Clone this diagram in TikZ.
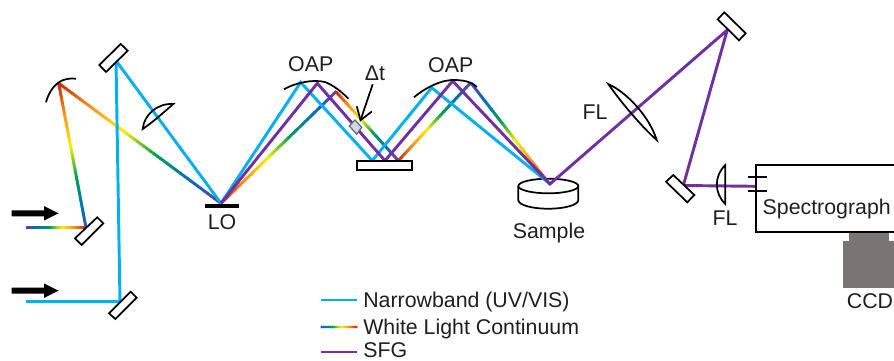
\documentclass[tikz,border=0pt]{standalone}
\usepackage{fontspec}
\setmainfont{Liberation Sans}
\usetikzlibrary{calc,arrows.meta}
\definecolor{nbblue}{HTML}{00B0F0}
\definecolor{sfgpurple}{HTML}{7030A0}
\definecolor{ccdgray}{HTML}{7A7472}
\definecolor{delayfill}{HTML}{C9D8EC}
\definecolor{cz0}{HTML}{6A3CA8}
\definecolor{cz1}{HTML}{0070C0}
\definecolor{cz2}{HTML}{00A050}
\definecolor{cz3}{HTML}{FFEF00}
\definecolor{cz4}{HTML}{F7941D}
\definecolor{cz5}{HTML}{C8280A}
\tikzset{
  mirrorbox/.style={draw=black,line width=1.3pt,fill=white,line join=miter},
  optic/.style={draw=black,line width=1.3pt,fill=white,line join=round},
  curvedmirror/.style={draw=black,line width=1.3pt},
  nbbeam/.style={draw=nbblue,line width=2.2pt,line join=miter},
  sfgbeam/.style={draw=sfgpurple,line width=2.2pt,line join=miter},
  lab/.style={font=\fontsize{16}{18}\selectfont,text=black!88,inner sep=0pt,outer sep=0pt},
  block/.style={fill=black,draw=none}
}
% rainbow segment: from coordinate #1 to coordinate #2, spectrum position #3 to #4
\newcommand{\rbow}[4]{%
  \foreach \ii in {0,...,47}{%
    \pgfmathsetmacro\tta{#3+(#4-#3)*(\ii+0.5)/48}%
    \pgfmathsetmacro\ssa{\tta*5}%
    \pgfmathtruncatemacro\ida{min(floor(\ssa),4)}%
    \pgfmathtruncatemacro\idb{\ida+1}%
    \pgfmathsetmacro\fra{100-(\ssa-\ida)*100}%
    \pgfmathsetmacro\pa{\ii/48}%
    \pgfmathsetmacro\pb{(\ii+1.2)/48}%
    \draw[line width=2.2pt,color=cz\ida!\fra!cz\idb] ($(#1)!\pa!(#2)$) -- ($(#1)!\pb!(#2)$);
  }%
}
\begin{document}
\begin{tikzpicture}[x=0.75pt,y=-0.75pt]
\useasboundingbox (0,0) rectangle (894,361);
% beam vertices
\coordinate (inN) at (26,301.7);
\coordinate (inW) at (26,227.7);
\coordinate (mB) at (120,301.7);
\coordinate (mT) at (116,60.7);
\coordinate (mW) at (86,227.7);
\coordinate (cm) at (58.7,83.3);
\coordinate (lo) at (221,203.3);
\coordinate (n1) at (300.7,82.3);
\coordinate (n2) at (372.3,160.7);
\coordinate (n3) at (431.7,87.7);
\coordinate (smp) at (550,184);
\coordinate (p1) at (317.3,83.3);
\coordinate (p2) at (385,160.7);
\coordinate (p3) at (452.7,81);
\coordinate (w1) at (336,91.7);
\coordinate (w2) at (398.3,160.7);
\coordinate (w3) at (470.7,82.7);
\coordinate (w4) at (547,181);
\coordinate (mTR) at (727.3,30);
\coordinate (mLR) at (683.3,185.5);
\coordinate (slit) at (755,186.3);
% sample (beams land on top of it)
\draw[optic] (518.3,186) -- (518.3,200) .. controls (518.3,205) and (531.7,208.7) .. (548.3,208.7) .. controls (564.9,208.7) and (578.3,205) .. (578.3,200) -- (578.3,186);
\draw[optic] (518.3,186) .. controls (518.3,182) and (531.7,178.7) .. (548.3,178.7) .. controls (564.9,178.7) and (578.3,182) .. (578.3,186) .. controls (578.3,190) and (564.9,193.3) .. (548.3,193.3) .. controls (531.7,193.3) and (518.3,190) .. (518.3,186) -- cycle;
% white light
\rbow{inW}{mW}{0}{1}
\rbow{mW}{cm}{0.08}{1}
\rbow{cm}{lo}{1}{0}
\rbow{lo}{w1}{1}{0}
\rbow{w1}{w2}{1}{0}
\rbow{w2}{w3}{1}{0}
\rbow{w3}{w4}{0}{1}
% narrowband
\draw[nbbeam] (inN) -- (mB) -- (mT) -- (lo) -- (n1) -- (n2) -- (n3) -- (smp);
% SFG
\draw[sfgbeam] (lo) -- (p1) -- (p2) -- (p3) -- (smp) -- (mTR) -- (mLR) -- (slit);
% flat mirrors
\draw[mirrorbox] (99.3,65) -- (120.7,44) -- (127.7,50.7) -- (106,72) -- cycle;
\draw[mirrorbox] (109,313.3) -- (130.7,291.7) -- (136.7,297.7) -- (115.3,319) -- cycle;
\draw[mirrorbox] (75,238.3) -- (97.3,217.3) -- (103.3,223.3) -- (81.7,245) -- cycle;
\draw[mirrorbox] (717.7,19.3) -- (724.3,12.3) -- (745.7,33.3) -- (739,40.3) -- cycle;
\draw[mirrorbox] (666,181.7) -- (673.3,175) -- (694.3,195) -- (687.3,202.3) -- cycle;
% curved mirrors
\draw[curvedmirror] (46,102.3) .. controls (49,91) and (55,85) .. (58.3,82.7) .. controls (63,79) and (70,78) .. (76,78.7);
\draw[curvedmirror] (284,89.3) .. controls (295,83) and (312,79) .. (325,82) .. controls (333,85) and (342,92) .. (348.3,98.7);
\draw[curvedmirror] (414,97.3) .. controls (425,88) and (442,79) .. (456,80) .. controls (465,80.5) and (472,82) .. (477,87);
% lenses
\draw[curvedmirror] (142.7,129) .. controls (144,115) and (157,103) .. (173.3,104) .. controls (163,113) and (153,122) .. (142.7,129) -- cycle;
\draw[curvedmirror] (608.3,84) .. controls (628,93) and (650,118) .. (656.7,140) .. controls (645,130) and (622,104) .. (608.3,84) -- cycle;
\draw[curvedmirror] (725.3,165) .. controls (714,176) and (714,193) .. (725.3,204) -- cycle;
% LO bar, slab, delay
\fill[black] (205,203.7) rectangle (239,208.3);
\draw[mirrorbox] (356.7,161) rectangle (411.7,169.7);
\draw[draw=black!60,line width=0.9pt,fill=delayfill] (349.3,126) -- (355,120) -- (361.7,127.3) -- (356.7,134.3) -- cycle;
\coordinate (dtTail) at (372.7,84.3);
\coordinate (dtTip) at (360,121.7);
\draw[line width=1.3pt,-{Straight Barb[length=9pt,width=12pt]}] (dtTail) -- (dtTip);
% spectrograph
\draw[line width=1.3pt] (896,165.3) -- (756,165.3) -- (756,232.3) -- (896,232.3);
\draw[line width=1.3pt] (747.7,176.7) -- (766.7,176.7);
\draw[line width=1.3pt] (747.7,191.3) -- (766.7,191.3);
% CCD
\fill[ccdgray] (849.3,233) rectangle (889.3,241);
\fill[ccdgray] (843.3,240.5) rectangle (896,288);
% input arrows
\fill[block] (11.7,210.3) -- (44,210.3) -- (44,206) -- (58.5,213.3) -- (44,220.6) -- (44,216.3) -- (11.7,216.3) -- cycle;
\fill[block] (11.7,287.7) -- (44,287.7) -- (44,283.4) -- (58.5,290.7) -- (44,298) -- (44,293.7) -- (11.7,293.7) -- cycle;
% labels
\node[lab] (tLO) at (222,222) {LO};
\node[lab] (tOAP1) at (310.7,64) {OAP};
\node[lab] (tOAP2) at (450.7,65) {OAP};
\node[lab] (tDt) at (375,73) {Δt};
\node[lab] (tSample) at (549,232.5) {Sample};
\node[lab] (tFL1) at (595,112) {FL};
\node[lab] (tFL2) at (725,218) {FL};
\node[lab] (tSpec) at (826.7,209) {Spectrograph};
\node[lab] (tCCD) at (870,301.5) {CCD};
% legend
\coordinate (lgA) at (320.7,300);
\coordinate (lgB) at (357.3,300);
\coordinate (lgC) at (320.7,327);
\coordinate (lgD) at (357.3,327);
\coordinate (lgE) at (320.7,352);
\coordinate (lgF) at (357.3,352);
\draw[nbbeam] (lgA) -- (lgB);
\rbow{lgC}{lgD}{0.1}{1}
\draw[sfgbeam] (lgE) -- (lgF);
\node[lab,anchor=base west] (tNB) at (363.3,307.3) {Narrowband (UV/VIS)};
\node[lab,anchor=base west] (tWL) at (363.3,334.3) {White Light Continuum};
\node[lab,anchor=base west] (tSFG) at (363.3,357.5) {SFG};
\end{tikzpicture}
\end{document}
